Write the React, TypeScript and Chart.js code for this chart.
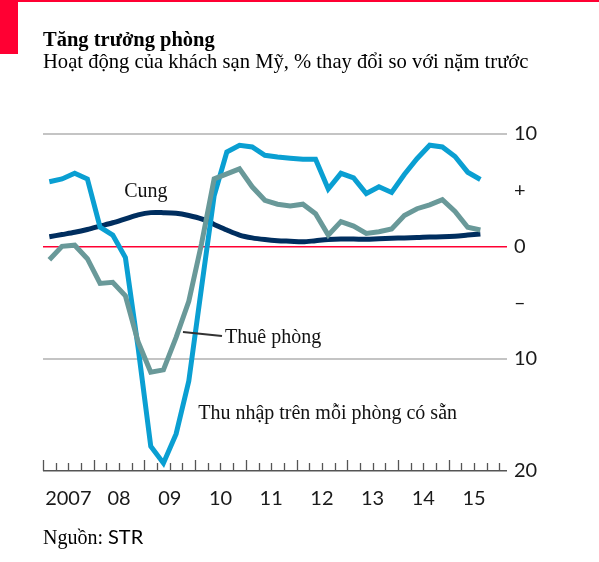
import React, { useEffect, useRef } from "react";
import { Chart, registerables } from "chart.js";

Chart.register(...registerables);

// Quarters (Q1 2007 .. Q3 2015)
const quarters = [
  "2007 Q1", "2007 Q2", "2007 Q3", "2007 Q4",
  "2008 Q1", "2008 Q2", "2008 Q3", "2008 Q4",
  "2009 Q1", "2009 Q2", "2009 Q3", "2009 Q4",
  "2010 Q1", "2010 Q2", "2010 Q3", "2010 Q4",
  "2011 Q1", "2011 Q2", "2011 Q3", "2011 Q4",
  "2012 Q1", "2012 Q2", "2012 Q3", "2012 Q4",
  "2013 Q1", "2013 Q2", "2013 Q3", "2013 Q4",
  "2014 Q1", "2014 Q2", "2014 Q3", "2014 Q4",
  "2015 Q1", "2015 Q2", "2015 Q3",
];

// Thu nhập trên mỗi phòng có sẵn (RevPAR), % change
const revpar = [
  5.75, 6.0, 6.5, 6.0, 1.7, 1.0, -1.0, -9.0,
  -17.8, -19.3, -16.7, -12.0, -3.7, 4.5, 8.4, 9.0,
  8.85, 8.1, 7.95, 7.85, 7.75, 7.75, 5.1, 6.5,
  6.1, 4.7, 5.3, 4.8, 6.4, 7.8, 9.0, 8.85,
  8.0, 6.6, 5.95,
];

// Thuê phòng (rooms rented), % change
const rented = [
  -1.2, 0.0, 0.1, -1.1, -3.3, -3.2, -4.4, -8.5,
  -11.2, -11.0, -8.1, -4.9, 0.2, 6.0, 6.45, 6.9,
  5.3, 4.1, 3.75, 3.6, 3.75, 2.9, 1.0, 2.2,
  1.8, 1.15, 1.3, 1.55, 2.75, 3.35, 3.7, 4.15,
  3.1, 1.7, 1.45,
];

// Cung (supply), % change
const supply = [
  0.85, 1.05, 1.25, 1.5, 1.8, 2.1, 2.45, 2.8,
  3.0, 3.0, 2.95, 2.75, 2.45, 1.95, 1.45, 1.0,
  0.75, 0.6, 0.5, 0.45, 0.4, 0.5, 0.6, 0.65,
  0.65, 0.62, 0.68, 0.72, 0.75, 0.78, 0.83, 0.85,
  0.9, 1.0, 1.1,
];

const years = [2007, 2008, 2009, 2010, 2011, 2012, 2013, 2014, 2015];
const yearLabels = ["2007", "08", "09", "10", "11", "12", "13", "14", "15"];

const yTickValues = [10, 5, 0, -5, -10, -20];
const yTickLabels = ["10", "+", "0", "\u2013", "10", "20"];

const BLUE = "#0a9fd2";
const TEAL = "#699999";
const NAVY = "#002e5f";
const RED = "#ff0033";

const quarterToX = (q: string) => {
  const [y, qq] = q.split(" Q");
  return Number(y) + (Number(qq) - 0.5) / 4;
};

const toXY = (vals: number[]) =>
  vals.map((v, i) => ({ x: quarterToX(quarters[i]), y: v }));

const SERIF = '"Liberation Serif", "Times New Roman", serif';
const SANS = 'Lato, "Liberation Sans", sans-serif';

const decorPlugin = {
  id: "decor",
  afterDraw(chart: any) {
    const { ctx, scales } = chart;
    const xs = scales.x;
    const ys = scales.y;
    const base = ys.getPixelForValue(-20);
    ctx.save();
    // quarterly tick marks rising from the axis
    ctx.strokeStyle = "#555";
    ctx.lineWidth = 1.3;
    for (let i = 0; i <= 36; i++) {
      const v = 2007 + i / 4;
      const px = Math.round(xs.getPixelForValue(v)) + 0.5;
      const tall = i % 4 === 0 && i < 36;
      ctx.beginPath();
      ctx.moveTo(px, base);
      ctx.lineTo(px, base - (tall ? 11 : 8));
      ctx.stroke();
    }
    // annotations
    ctx.fillStyle = "#111";
    ctx.font = "20px " + SERIF;
    ctx.textAlign = "left";
    ctx.textBaseline = "alphabetic";
    ctx.fillText("Cung", xs.getPixelForValue(2008.6), ys.getPixelForValue(4.39));
    ctx.fillText("Thuê phòng", xs.getPixelForValue(2010.59), ys.getPixelForValue(-8.61));
    ctx.fillText(
      "Thu nhập trên mỗi phòng có sẵn",
      xs.getPixelForValue(2010.06),
      ys.getPixelForValue(-15.38)
    );
    // leader line
    ctx.strokeStyle = "#333";
    ctx.lineWidth = 2;
    ctx.beginPath();
    ctx.moveTo(xs.getPixelForValue(2009.76), ys.getPixelForValue(-7.63));
    ctx.lineTo(xs.getPixelForValue(2010.53), ys.getPixelForValue(-7.99));
    ctx.stroke();
    ctx.restore();
  },
};

export default function App() {
  const ref = useRef<HTMLCanvasElement | null>(null);

  useEffect(() => {
    if (!ref.current) return;
    const gridColor = (v: number) => {
      if (v === 0) return RED;
      if (v === 10 || v === -10) return "#c4c4c4";
      if (v === -20) return "#555";
      return "rgba(0,0,0,0)";
    };
    const gridWidth = (v: number) => {
      if (v === 0) return 1.4;
      if (v === 10 || v === -10) return 2;
      if (v === -20) return 1.5;
      return 0;
    };
    const chart = new Chart(ref.current, {
      type: "line",
      data: {
        datasets: [
          {
            label: "Thuê phòng",
            data: toXY(rented),
            borderColor: TEAL,
            borderWidth: 5,
            pointRadius: 0,
            tension: 0,
            fill: false,
          },
          {
            label: "Thu nhập trên mỗi phòng có sẵn",
            data: toXY(revpar),
            borderColor: BLUE,
            borderWidth: 5,
            pointRadius: 0,
            tension: 0,
            fill: false,
          },
          {
            label: "Cung",
            data: toXY(supply),
            borderColor: NAVY,
            borderWidth: 5,
            pointRadius: 0,
            tension: 0.3,
            fill: false,
          },
        ],
      },
      options: {
        animation: false,
        responsive: false,
        devicePixelRatio: window.devicePixelRatio || 1,
        layout: { padding: { left: 43, top: 134, right: 0, bottom: 0 } },
        plugins: {
          legend: { display: false },
          tooltip: { enabled: false },
          title: { display: false },
        },
        scales: {
          x: {
            type: "linear",
            min: 2007,
            max: 2016.15,
            afterBuildTicks: (scale: any) => {
              scale.ticks = years.map((y) => ({ value: y + 0.5 }));
            },
            afterFit: (scale: any) => {
              scale.height = 91;
            },
            ticks: {
              autoSkip: false,
              maxRotation: 0,
              minRotation: 0,
              padding: 16,
              color: "#1a1a1a",
              font: { family: SANS, size: 20 },
              callback: (_v: any, i: number) => yearLabels[i],
            },
            grid: { display: false, drawTicks: false },
            border: { display: false },
          },
          y: {
            type: "linear",
            position: "right",
            min: -20,
            max: 10,
            afterBuildTicks: (scale: any) => {
              scale.ticks = yTickValues.map((v) => ({ value: v }));
            },
            afterFit: (scale: any) => {
              scale.width = 92;
            },
            ticks: {
              padding: 7,
              color: "#1a1a1a",
              font: { family: SANS, size: 20 },
              callback: (_v: any, i: number) => yTickLabels[i],
            },
            grid: {
              drawTicks: false,
              color: (c: any) => gridColor(c.tick ? c.tick.value : 1),
              lineWidth: (c: any) => gridWidth(c.tick ? c.tick.value : 1),
            },
            border: { display: false },
          },
        },
      },
      plugins: [decorPlugin],
    } as any);
    return () => chart.destroy();
  }, []);

  return (
    <div
      style={{
        position: "absolute",
        left: 0,
        top: 0,
        width: 599,
        height: 562,
        background: "#fff",
        overflow: "hidden",
      }}
    >
      <div style={{ position: "absolute", left: 0, top: 0, width: 599, height: 2, background: RED }} />
      <div style={{ position: "absolute", left: 0, top: 0, width: 18, height: 54, background: RED }} />
      <canvas
        ref={ref}
        width={599}
        height={562}
        style={{ position: "absolute", left: 0, top: 0, width: 599, height: 562 }}
      />
      <div
        style={{
          position: "absolute",
          left: 43,
          top: 29,
          fontFamily: SERIF,
          fontWeight: "bold",
          fontSize: 20.5,
          lineHeight: "20px",
          color: "#000",
          whiteSpace: "nowrap",
        }}
      >
        Tăng trưởng phòng
      </div>
      <div
        style={{
          position: "absolute",
          left: 43,
          top: 51,
          fontFamily: SERIF,
          fontSize: 20.6,
          lineHeight: "20px",
          color: "#000",
          whiteSpace: "nowrap",
        }}
      >
        Hoạt động của khách sạn Mỹ, % thay đổi so với nặm trước
      </div>
      <div
        style={{
          position: "absolute",
          left: 43,
          top: 526,
          fontSize: 20,
          lineHeight: "20px",
          color: "#000",
          whiteSpace: "nowrap",
        }}
      >
        <span style={{ fontFamily: SERIF }}>Nguồn: </span>
        <span style={{ fontFamily: SANS }}>STR</span>
      </div>
    </div>
  );
}
